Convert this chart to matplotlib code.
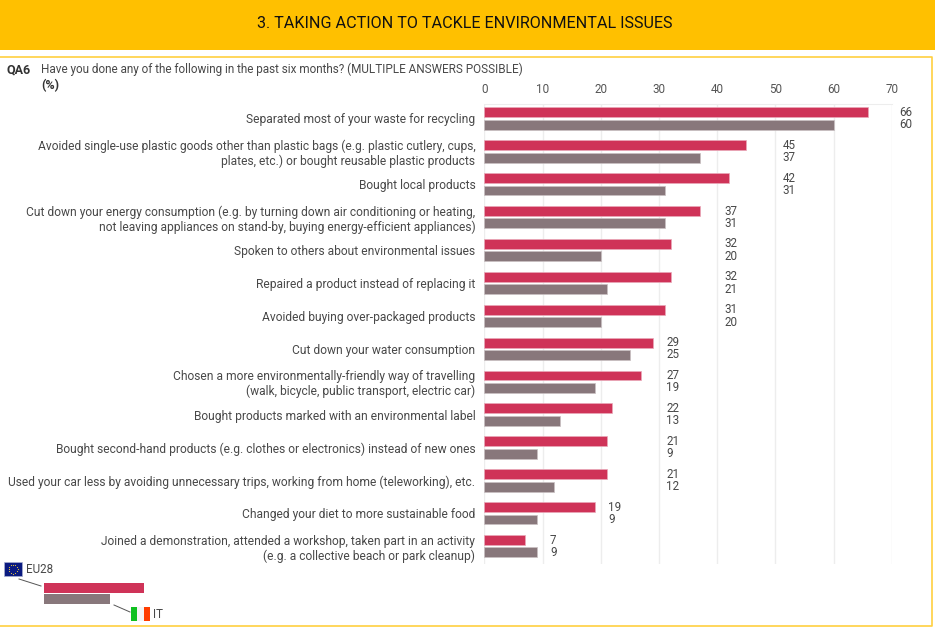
import numpy as np
import matplotlib
matplotlib.use("Agg")
import matplotlib.pyplot as plt
from matplotlib.patches import Rectangle

categories = [
    "Separated most of your waste for recycling",
    "Avoided single-use plastic goods other than plastic bags (e.g. plastic cutlery, cups,\nplates, etc.) or bought reusable plastic products",
    "Bought local products",
    "Cut down your energy consumption (e.g. by turning down air conditioning or heating,\nnot leaving appliances on stand-by, buying energy-efficient appliances)",
    "Spoken to others about environmental issues",
    "Repaired a product instead of replacing it",
    "Avoided buying over-packaged products",
    "Cut down your water consumption",
    "Chosen a more environmentally-friendly way of travelling\n(walk, bicycle, public transport, electric car)",
    "Bought products marked with an environmental label",
    "Bought second-hand products (e.g. clothes or electronics) instead of new ones",
    "Used your car less by avoiding unnecessary trips, working from home (teleworking), etc.",
    "Changed your diet to more sustainable food",
    "Joined a demonstration, attended a workshop, taken part in an activity\n(e.g. a collective beach or park cleanup)",
]
eu28 = [66, 45, 42, 37, 32, 32, 31, 29, 27, 22, 21, 21, 19, 7]
italy = [60, 37, 31, 31, 20, 21, 20, 25, 19, 13, 9, 12, 9, 9]
x_ticks = [0, 10, 20, 30, 40, 50, 60, 70]

W, H = 935, 629
RED = "#cf3358"
GREY = "#88777b"
YELLOW = "#ffc000"
TEXT = "#484848"

plt.rcParams["font.family"] = ["Roboto", "DejaVu Sans"]
fig = plt.figure(figsize=(W / 100, H / 100), dpi=100)

# overlay in pixel coords for the frame, header and legend
bg = fig.add_axes([0, 0, 1, 1])
bg.set_xlim(0, W)
bg.set_ylim(H, 0)
bg.axis("off")
bg.add_patch(Rectangle((0, 0), W, 50, color=YELLOW, lw=0))
bg.plot([0, 931.5, 931.5, 0], [56.5, 56.5, 625.5, 625.5], color="#ffcf40", lw=1.2)
bg.text(465, 23.5, "3. TAKING ACTION TO TACKLE ENVIRONMENTAL ISSUES", ha="center", va="center",
        fontsize=11.65, color="#111111")
bg.text(6.5, 69.5, "QA6", fontsize=9, fontweight="bold", color="#333333", va="center")
bg.text(41, 69.5, "Have you done any of the following in the past six months? (MULTIPLE ANSWERS POSSIBLE)",
        fontsize=8.46, color=TEXT, va="center")
bg.text(41, 85.5, "(%)", fontsize=9, fontweight="bold", color="#333333", va="center")

# chart axes
left, right, top, bottom = 484.3, 891.7, 104, 564
ax = fig.add_axes([left / W, 1 - bottom / H, (right - left) / W, (bottom - top) / H])
ax.patch.set_alpha(0)
y = np.arange(len(categories))
off = 0.188
ax.barh(y - off, eu28, height=0.3, color=RED, edgecolor="#e9a9b9", lw=0.5, zorder=3)
ax.barh(y + off, italy, height=0.3, color=GREY, edgecolor="#c9c0c2", lw=0.5, zorder=3)
ax.set_xlim(0, 70)
ax.set_ylim(13.54, -0.44)
ax.set_xticks(x_ticks)
ax.xaxis.tick_top()
ax.tick_params(axis="x", length=0, pad=5.5, labelsize=8.4, labelcolor="#555555")
ax.set_yticks(y)
ax.set_yticklabels(categories, fontsize=8.65, color=TEXT, ma="right", linespacing=1.16)
ax.tick_params(axis="y", length=0, pad=6.5)
ax.grid(axis="x", color="#ededed", lw=1, zorder=0)
ax.set_axisbelow(True)
for s in ["left", "right", "bottom"]:
    ax.spines[s].set_visible(False)
ax.spines["top"].set_color("#ededed")

# value labels sit past the next gridline above the larger of the pair
for i in y:
    pos = np.ceil(max(eu28[i], italy[i]) / 10) * 10 + 1.3
    ax.text(pos, i - off, str(eu28[i]), fontsize=8.4, color=TEXT, va="center", clip_on=False)
    ax.text(pos, i + off, str(italy[i]), fontsize=8.4, color=TEXT, va="center", clip_on=False)

# legend key
bg.add_patch(Rectangle((44, 583), 100, 10, color=RED, lw=0))
bg.add_patch(Rectangle((44, 594), 66, 10, color=GREY, lw=0))
bg.plot([19, 41], [579, 586], color="#555555", lw=0.7)
bg.plot([114, 130], [605, 612], color="#555555", lw=0.7)
bg.add_patch(Rectangle((4, 562), 18, 14, facecolor="#0a1a80", edgecolor="#aab0d0", lw=0.5))
ang = np.arange(12) * np.pi / 6
bg.scatter(13 + 4.5 * np.cos(ang), 569 + 4.5 * np.sin(ang), s=0.7, color="#e8c840", lw=0, zorder=3)
bg.add_patch(Rectangle((131, 607), 6.3, 14, color="#10c020", lw=0))
bg.add_patch(Rectangle((137.3, 607), 6.3, 14, facecolor="#f4f4f4", lw=0))
bg.add_patch(Rectangle((143.6, 607), 6.4, 14, color="#ff3d00", lw=0))
bg.text(26, 569.5, "EU28", fontsize=8.4, color=TEXT, va="center")
bg.text(153.5, 614.5, "IT", fontsize=8.4, color=TEXT, va="center")

fig.savefig("out.png", dpi=100)
